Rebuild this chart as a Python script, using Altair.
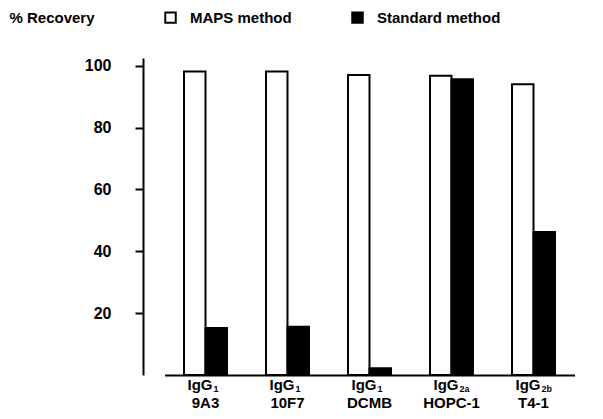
import altair as alt
import pandas as pd

clones = ["9A3", "10F7", "DCMB", "HOPC-1", "T4-1"]
isotype = ["IgG", "IgG", "IgG", "IgG", "IgG"]
subclass = ["1", "1", "1", "2a", "2b"]
methods = ["MAPS method", "Standard method"]
maps_recovery = [98.1, 98.1, 97.0, 96.8, 94.0]
standard_recovery = [15.2, 15.6, 2.2, 95.6, 46.2]
y_ticks = [20, 40, 60, 80, 100]

rows = []
for i, c in enumerate(clones):
    rows.append({"clone": c, "method": methods[0], "recovery": maps_recovery[i]})
    rows.append({"clone": c, "method": methods[1], "recovery": standard_recovery[i]})
bars_df = pd.DataFrame(rows)
labels_df = pd.DataFrame({"clone": clones, "iso": isotype, "sub": subclass})

FONT = "Liberation Sans"
W, H = 452, 317

x_scale = alt.Scale(domain=clones, range=[21.5, 431.5], paddingInner=0.476, paddingOuter=0.238)
x_axis = alt.Axis(labels=False, ticks=False, title=None, domainColor="black",
                  domainWidth=2, grid=False)
x_enc = alt.X("clone:N", scale=x_scale, axis=x_axis, sort=clones)

bars = alt.Chart(bars_df).mark_bar(stroke="black", strokeWidth=2).encode(
    x=x_enc,
    xOffset=alt.XOffset("method:N", sort=methods,
                        scale=alt.Scale(domain=methods, paddingInner=0, paddingOuter=0)),
    y=alt.Y("recovery:Q",
            scale=alt.Scale(domain=[0, 102.5], nice=False, zero=True),
            axis=alt.Axis(values=y_ticks, grid=False, domainColor="black", domainWidth=2,
                          tickColor="black", tickWidth=2, tickSize=8, labelPadding=24,
                          labelFontSize=16, labelFontWeight="bold", labelFont=FONT,
                          labelColor="black",
                          title="% Recovery", titleAngle=0, titleX=-134, titleY=-41,
                          titleAlign="left", titleBaseline="middle", titleFontSize=15,
                          titleFontWeight="bold", titleFont=FONT, titleColor="black")),
    fill=alt.Fill("method:N",
                  scale=alt.Scale(domain=methods, range=["white", "black"]),
                  legend=alt.Legend(orient="none", legendX=20, legendY=-48,
                                    direction="horizontal", title=None,
                                    symbolType="square", symbolSize=110,
                                    symbolStrokeColor="black", symbolStrokeWidth=2,
                                    labelFontSize=15, labelFontWeight="bold",
                                    labelFont=FONT, labelColor="black",
                                    labelOffset=12, columnPadding=56, padding=0)),
)

iso_text = alt.Chart(labels_df).mark_text(
    align="right", baseline="alphabetic", dx=7, fontSize=15, fontWeight="bold",
    font=FONT, color="black").encode(x=x_enc, y=alt.value(332), text="iso:N")

sub_text = alt.Chart(labels_df).mark_text(
    align="left", baseline="alphabetic", dx=8, fontSize=9, fontWeight="bold",
    font=FONT, color="black").encode(x=x_enc, y=alt.value(334), text="sub:N")

clone_text = alt.Chart(labels_df).mark_text(
    align="center", baseline="alphabetic", fontSize=15, fontWeight="bold",
    font=FONT, color="black").encode(x=x_enc, y=alt.value(350), text="clone:N")

chart = alt.layer(bars, iso_text, sub_text, clone_text).properties(
    width=W, height=H,
    autosize=alt.AutoSizeParams(type="none"),
    padding={"left": 135, "top": 50, "right": 0, "bottom": 36},
).configure_view(stroke=None)

chart.save("out.html", embed_options={"renderer": "svg", "actions": False})
